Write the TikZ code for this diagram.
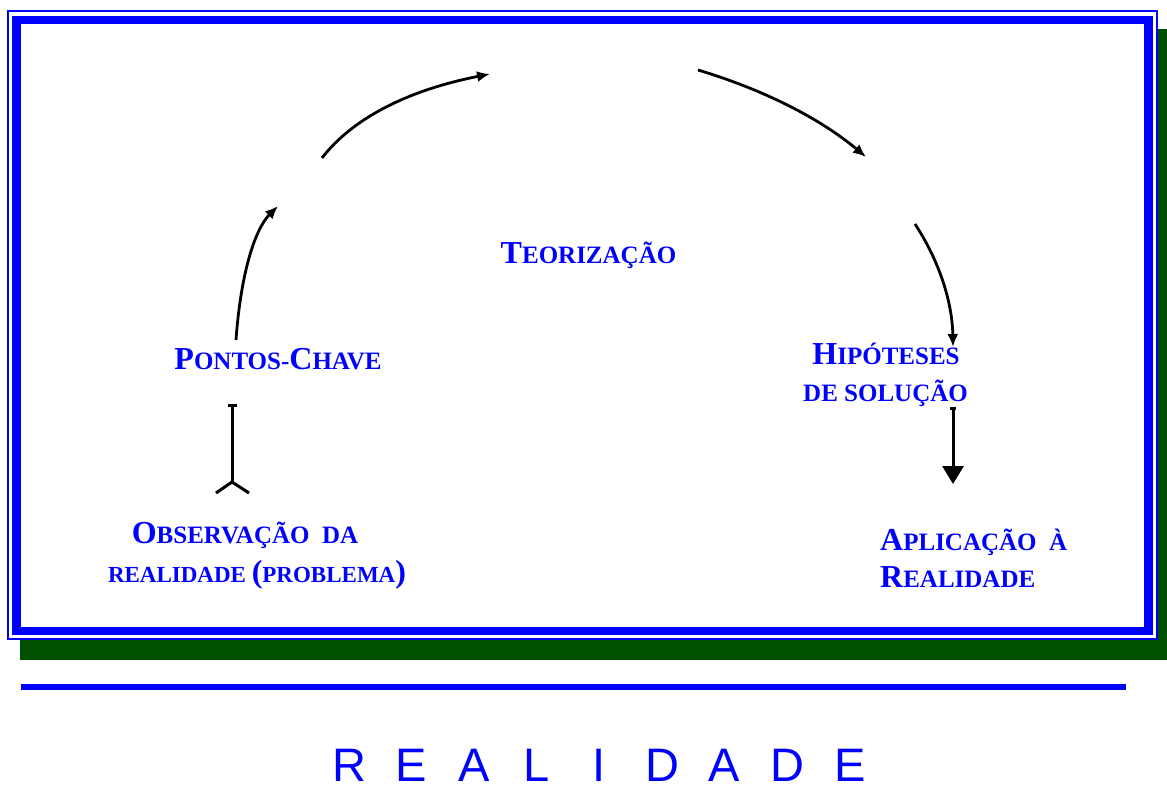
\documentclass[tikz,border=0pt]{standalone}
\usepackage{fontspec}
\setmainfont{Liberation Serif}
\setsansfont{Liberation Sans}
\usetikzlibrary{arrows.meta}
\definecolor{frameblue}{RGB}{0,0,255}
\definecolor{shadowgreen}{RGB}{0,80,0}
\newcommand{\bigini}[1]{{\fontsize{32}{32}\selectfont #1}}

\begin{document}
\begin{tikzpicture}[x=1pt, y=-1pt,
    stagetxt/.style={text=frameblue, font=\fontsize{25}{30}\selectfont\bfseries, inner sep=0pt, anchor=base},
    cyclearc/.style={line width=2.8pt, -{Latex[length=13pt,width=11pt]}},
    realletter/.style={text=frameblue, font=\fontsize{47}{47}\selectfont\sffamily, inner sep=0pt, anchor=base}
  ]
  \useasboundingbox (0,0) rectangle (1167,789);

  % Frame
  \fill[shadowgreen] (20,29) rectangle (1167,660);
  \fill[white] (7,10) rectangle (1158,640);
  \draw[frameblue, line width=2pt] (8,11) rectangle (1157,638.5);
  \draw[frameblue, line width=8.5pt] (16.5,20) rectangle (1148.5,631);
  \draw[frameblue, line width=6pt] (21,686.5) -- (1126,686.5);

  % Nodes
  \node[stagetxt] (teo) at (588.5,263) {\bigini{T}EORIZAÇÃO};
  \node[stagetxt] (pontos) at (278,369) {\bigini{P}ONTOS-\bigini{C}HAVE};
  \node[stagetxt] (hip1) at (886,364) {\bigini{H}IPÓTESES};
  \node[stagetxt] (hip2) at (885.5,401) {DE SOLUÇÃO};
  \node[stagetxt] (obs1) at (245,543) {\bigini{O}BSERVAÇÃO\ \ DA};
  \node[stagetxt, font=\fontsize{23}{30}\selectfont\bfseries] (obs2) at (257,582) {REALIDADE \bigini{(}PROBLEMA\bigini{)}};
  \node[stagetxt, anchor=base west] (apl1) at (880,550) {\bigini{A}PLICAÇÃO\ \ À};
  \node[stagetxt, anchor=base west] (apl2) at (880,587) {\bigini{R}EALIDADE};

  \foreach \l [count=\i] in {R,E,A,L,I,D,A,D,E}
    \node[realletter] (real\i) at ({349+62.6*(\i-1)},781) {\l};

  % Arc ends
  \coordinate (arcAs) at (236,340);
  \coordinate (arcAe) at (278,206);
  \coordinate (arcBs) at (322,158);
  \coordinate (arcBe) at (490,74);
  \coordinate (arcCs) at (698,70);
  \coordinate (arcCe) at (866,157);
  \coordinate (arcDs) at (915,224);
  \coordinate (arcDe) at (953,347);
  \coordinate (pontdown) at (232,404);
  \coordinate (obsup) at (232,482);
  \coordinate (hipdown) at (953,407);
  \coordinate (apltop) at (953,484);

  % Edges
  \draw[cyclearc] (arcAs) .. controls (240.7,274) and (254.7,229.3) .. (arcAe);
  \draw[cyclearc] (arcBs) .. controls (352.7,118) and (408.7,90) .. (arcBe);
  \draw[cyclearc] (arcCs) .. controls (764.7,90) and (820.7,119) .. (arcCe);
  \draw[cyclearc] (arcDs) .. controls (939.7,261.7) and (952.3,302.7) .. (arcDe);
  \draw[line width=3pt, {Bar[width=9pt]}-] (pontdown) -- (obsup);
  \draw[line width=3pt] (obsup) -- ++(-16,11) (obsup) -- ++(17,11);
  \draw[line width=3pt, {Bar[width=6pt]}-{Triangle[length=18pt,width=21pt]}] (hipdown) -- (apltop);
\end{tikzpicture}
\end{document}
